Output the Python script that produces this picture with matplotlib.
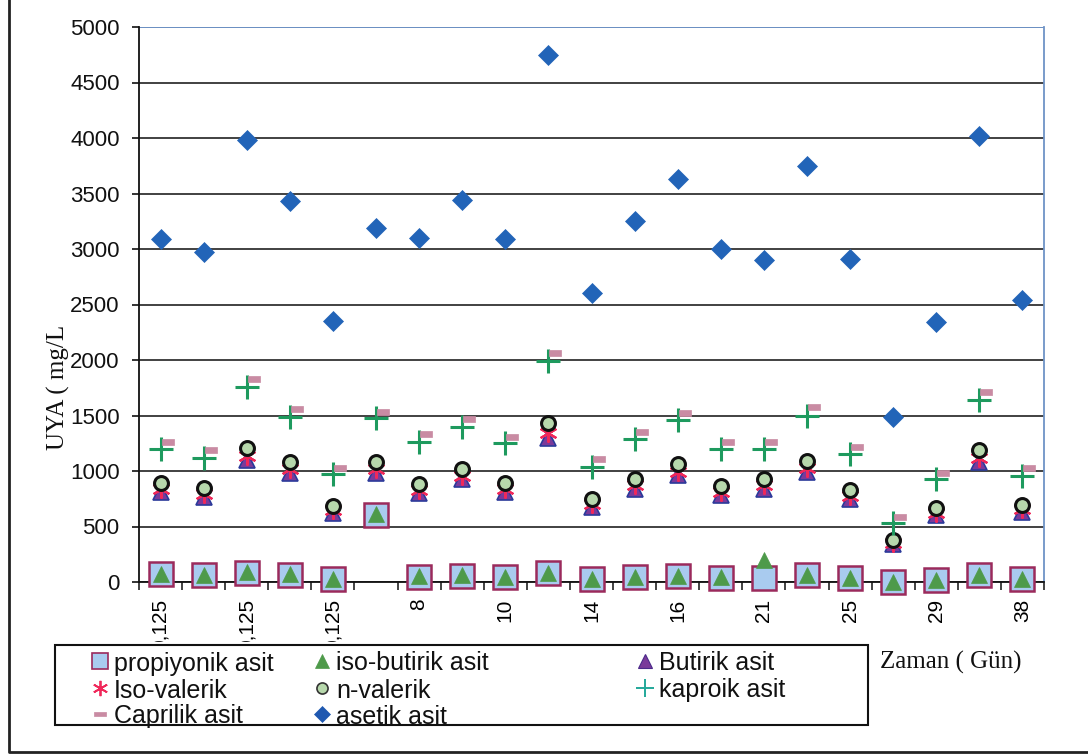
"""
UYA (volatile fatty acid) concentrations per sampling day, scatter of
eight acids on a categorical day axis.
"""

import matplotlib.pyplot as plt
import numpy as np
from matplotlib.lines import Line2D
from matplotlib.patches import Rectangle
from matplotlib.path import Path
from matplotlib.transforms import Bbox, TransformedBbox

# ── Data (mg/L) ───────────────────────────────────────────────────────────────
DAY_LABELS = ["0,125", "0,125", "0,125", "8", "10", "14", "16", "21", "25", "29", "38"]

PROPIYONIK = [72, 63, 84, 66, 27, 605, 48, 57, 42, 78, 27,
              45, 54, 39, 39, 60, 33, 0, 18, 63, 27]
ISO_BUTIRIK = [75, 66, 88, 70, 30, 610, 52, 60, 45, 82, 30,
               48, 57, 42, 200, 64, 36, 4, 22, 67, 30]
BUTIRIK = [810, 770, 1100, 985, 625, 985, 800, 925, 810, 1300, 680,
           840, 965, 785, 840, 990, 750, 345, 605, 1080, 630]
ISO_VALERIK = [835, 795, 1135, 1015, 645, 1015, 825, 955, 835, 1345, 700,
               870, 995, 815, 870, 1025, 775, 355, 625, 1115, 655]
N_VALERIK = [890, 845, 1205, 1080, 685, 1080, 880, 1015, 890, 1430, 745,
             925, 1060, 865, 925, 1090, 825, 380, 665, 1185, 695]
KAPROIK = [1200, 1115, 1760, 1490, 970, 1475, 1260, 1400, 1250, 1990, 1035,
           1285, 1455, 1200, 1195, 1500, 1150, 530, 925, 1640, 955]
CAPRILIK = [1265, 1185, 1830, 1555, 1025, 1535, 1330, 1465, 1305, 2065, 1105,
            1355, 1525, 1265, 1265, 1575, 1215, 585, 980, 1710, 1025]
ASETIK = [3090, 2970, 3980, 3430, 2350, 3190, 3100, 3445, 3090, 4750, 2600,
          3250, 3630, 3000, 2900, 3750, 2910, 1490, 2340, 4020, 2545]

# ── Style ─────────────────────────────────────────────────────────────────────
W, H = 1088, 756
SANS = ["Liberation Sans", "DejaVu Sans"]
SERIF = ["Liberation Serif", "DejaVu Serif"]

# pink flag-like dash used for the caprilik series (sits right of the point)
FLAG = Path([(0.05, -0.22), (1.0, -0.22), (1.0, 0.22), (0.05, 0.22), (0.05, -0.22)],
            [Path.MOVETO, Path.LINETO, Path.LINETO, Path.LINETO, Path.CLOSEPOLY])
DASH = Path([(-1, -0.4), (1, -0.4), (1, 0.4), (-1, 0.4), (-1, -0.4)],
            [Path.MOVETO, Path.LINETO, Path.LINETO, Path.LINETO, Path.CLOSEPOLY])
ASTER = (6, 2, 0)

SERIES = [
    # label, values, plot style, legend style
    ("propiyonik asit", PROPIYONIK,
     dict(marker="s", ms=17, mfc="#A9CBEF", mec="#9B2A5C", mew=1.8),
     dict(marker="s", ms=11, mfc="#A9CBEF", mec="#9B2A5C", mew=1.2)),
    ("iso-butirik asit", ISO_BUTIRIK,
     dict(marker="^", ms=12, mfc="#4E9A4A", mec="#4E9A4A", mew=0.5),
     dict(marker="^", ms=10, mfc="#4E9A4A", mec="#4E9A4A", mew=0.5)),
    ("Butirik asit", BUTIRIK,
     dict(marker="^", ms=12, mfc="#7A3A9A", mec="#2B3A9A", mew=1.2),
     dict(marker="^", ms=10, mfc="#7A3A9A", mec="#4A2A8A", mew=0.8)),
    ("Iso-valerik", ISO_VALERIK,
     dict(marker=ASTER, ms=13, mfc="none", mec="#F0285A", mew=1.6),
     dict(marker=ASTER, ms=11, mfc="none", mec="#F0285A", mew=1.3)),
    ("n-valerik", N_VALERIK,
     dict(marker="o", ms=10, mfc="#B7D8AC", mec="#111111", mew=2.2),
     dict(marker="o", ms=8, mfc="#B7D8AC", mec="#333333", mew=1.2)),
    ("kaproik asit", KAPROIK,
     dict(marker="+", ms=17, mec="#1E9A5E", mew=2.2),
     dict(marker="+", ms=13, mec="#23A89A", mew=1.4)),
    ("Caprilik asit", CAPRILIK,
     dict(marker=FLAG, ms=19, mfc="#C98BA3", mec="#C98BA3", mew=0.5),
     dict(marker=DASH, ms=8, mfc="#C98BA3", mec="#C98BA3", mew=0.5)),
    ("asetik asit", ASETIK,
     dict(marker="D", ms=10, mfc="#2264B8", mec="#2264B8", mew=0.5),
     dict(marker="D", ms=8, mfc="#1F58B0", mec="#1F58B0", mew=0.5)),
]

# legend laid out in three columns (handle x, text x in px) and three rows
LEGEND_COLS = [(100, 114), (322, 336), (645, 659)]
LEGEND_ROWS = [661, 688, 714]
LEGEND_TOP, LEGEND_BOTTOM = 645, 725


def fx(px):
    return px / W


def fy(py):
    return 1 - py / H


def main() -> None:
    fig = plt.figure(figsize=(W / 100, H / 100), dpi=100)
    fig.patch.set_facecolor("white")
    ax = fig.add_axes([fx(139), fy(582), fx(1044) - fx(139), fy(27) - fy(582)])

    n = len(ASETIK)
    x = np.arange(n)

    for z, (label, vals, style, _) in enumerate(SERIES):
        ax.plot(x, vals, linestyle="none", zorder=3 + z, clip_on=False, **style)

    # ── Axes ──────────────────────────────────────────────────────────────────
    ax.set_xlim(-0.5, n - 0.5)
    ax.set_ylim(0, 5000)
    ax.set_yticks(np.arange(0, 5001, 500))
    ax.tick_params(axis="y", direction="out", length=5, width=1.2, pad=9,
                   labelsize=16, colors="#111111")
    for t in ax.get_yticklabels():
        t.set_family(SANS)

    # every second day gets a label; the legend box sits over their tails
    ax.set_xticks(x[::2])
    ax.set_xticklabels(DAY_LABELS, rotation=90, va="top", ha="center",
                       fontsize=15, family=SANS)
    ax.tick_params(axis="x", which="major", length=0, pad=12)
    ax.set_xticks(np.arange(-0.5, n), minor=True)
    ax.tick_params(axis="x", which="minor", direction="out", length=6, width=1.2,
                   color="#222222")
    above_legend = TransformedBbox(Bbox([[0, fy(LEGEND_TOP - 3)], [1, 1]]),
                                   fig.transFigure)
    for t in ax.get_xticklabels():
        t.set_clip_box(above_legend)
        t.set_clip_on(True)

    ax.grid(axis="y", color="#333333", linewidth=1.3, zorder=1)
    ax.set_axisbelow(True)
    ax.axhline(5000, color="#6E93C6", linewidth=1.4, zorder=2)

    ax.spines["left"].set_color("#111111")
    ax.spines["left"].set_linewidth(1.3)
    ax.spines["bottom"].set_color("#111111")
    ax.spines["bottom"].set_linewidth(1.3)
    ax.spines["right"].set_color("#6E93C6")
    ax.spines["right"].set_linewidth(1.3)
    ax.spines["top"].set_visible(False)

    ax.set_ylabel("UYA ( mg/L", family=SERIF, fontsize=18, color="#111111")
    ax.yaxis.label.set_va("center")
    ax.yaxis.set_label_coords(-0.0895, 0.35)

    fig.text(fx(880), fy(662), "Zaman ( Gün)", family=SERIF, fontsize=18,
             ha="left", va="center", color="#111111")

    # ── Legend ────────────────────────────────────────────────────────────────
    fig.add_artist(Rectangle((fx(55), fy(LEGEND_BOTTOM)), fx(868) - fx(55),
                             fy(LEGEND_TOP) - fy(LEGEND_BOTTOM),
                             transform=fig.transFigure, fill=True, fc="white",
                             ec="#111111", lw=1.5, zorder=20))
    for i, (label, _, _, lstyle) in enumerate(SERIES):
        (hx, tx), ty = LEGEND_COLS[i % 3], LEGEND_ROWS[i // 3]
        fig.add_artist(Line2D([fx(hx)], [fy(ty)], transform=fig.transFigure,
                              linestyle="none", zorder=21, **lstyle))
        fig.text(fx(tx), fy(ty), label, family=SANS, fontsize=18,
                 ha="left", va="center_baseline", color="#111111", zorder=21)

    # ── Outer frame ───────────────────────────────────────────────────────────
    fig.add_artist(Line2D([fx(9), fx(9), fx(1088)], [fy(0), fy(752), fy(752)],
                          transform=fig.transFigure, color="#222222", lw=2))

    fig.savefig("out.png", dpi=100, facecolor="white")


if __name__ == "__main__":
    main()
